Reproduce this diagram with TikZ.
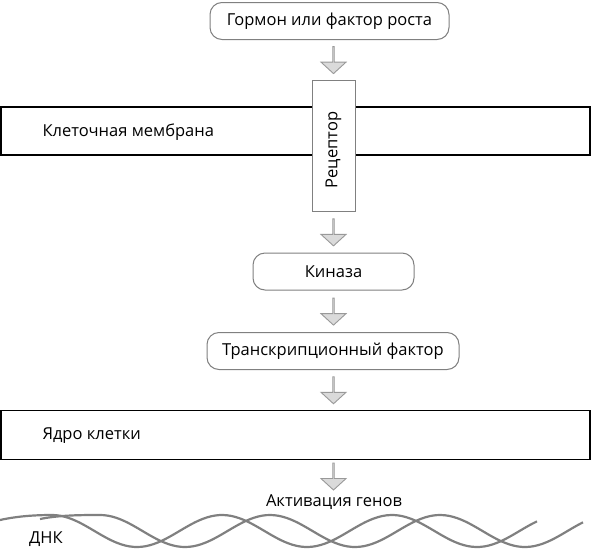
\documentclass[tikz,border=0pt]{standalone}
\usepackage{fontspec}
\setmainfont{Open Sans}
\usetikzlibrary{calc,shapes.arrows}
\definecolor{boxgray}{HTML}{808080}
\definecolor{arrfill}{HTML}{DADADA}
\definecolor{arrdraw}{HTML}{999999}
\definecolor{dnagray}{HTML}{808080}
\tikzset{
  lbl/.style={font=\fontsize{16.5}{19}\selectfont, text=black},
  rbox/.style={draw=boxgray, line width=1pt, rounded corners=12pt, fill=white, inner sep=0pt, minimum height=37pt, lbl},
  band/.style={draw=black, line width=1.3pt, fill=white, inner sep=0pt},
  recbox/.style={draw=boxgray, line width=1pt, fill=white, inner sep=0pt, minimum width=43pt, minimum height=131pt},
  blockarrow/.style={single arrow, shape border rotate=270, draw=arrdraw, fill=arrfill, line width=0.9pt,
     inner sep=0pt, minimum width=25pt, single arrow head extend=7pt, minimum height=27pt, single arrow tip angle=95},
  dna/.style={draw=dnagray, line width=2.2pt}
}
\begin{document}
\begin{tikzpicture}[x=1pt,y=-1pt]
\useasboundingbox (0,0) rectangle (591,549);
% membrane and nucleus bands
\node[band, minimum width=589pt, minimum height=48pt] (mem) at (295.5,131) {};
\node[lbl, anchor=west] (memt) at (39,132) {Клеточная мембрана};
\node[band, minimum width=589pt, minimum height=49pt] (nuc) at (295.5,435) {};
\node[lbl, anchor=west] (nuct) at (39,436) {Ядро клетки};
% boxes
\node[rbox, minimum width=239pt] (horm) at (329.5,21) {Гормон или фактор роста};
\node[recbox] (rec) at (333.5,145.5) {};
\node[lbl, rotate=90] (rect) at (333.5,150) {Рецептор};
\node[rbox, minimum width=161pt] (kin) at (333.5,271.5) {Киназа};
\node[rbox, minimum width=252pt] (tf) at (333,351) {Транскрипционный фактор};
\node[lbl] (gene) at (334,502) {Активация генов};
\node[lbl] (dnat) at (46,539) {ДНК};
% arrows
\node[blockarrow] (a1) at ($(horm.south -| rec.center)!0.5!(rec.north)$) {};
\node[blockarrow] (a2) at ($(rec.south)!0.5!(kin.north -| rec.south)$) {};
\node[blockarrow] (a3) at ($(kin.south -| rec.south)!0.5!(tf.north -| rec.south)$) {};
\node[blockarrow] (a4) at ($(tf.south -| rec.south)!0.5!(nuc.north -| rec.south)$) {};
\node[blockarrow] (a5) at ($(nuc.south -| rec.south)+(0,16)$) {};
% DNA strands
\draw[dna] (0,520) .. controls (18,516) and (36,515) .. (52,515)
  -- plot[domain=52:537, samples=120, smooth] (\x,{531-16*cos(2.11765*(\x-52))});
\draw[dna] (40,519) .. controls (60,515) and (82,515) .. (100,515)
  -- plot[domain=100:583, samples=120, smooth] (\x,{531-16*cos(2.11765*(\x-100))});
\end{tikzpicture}
\end{document}
